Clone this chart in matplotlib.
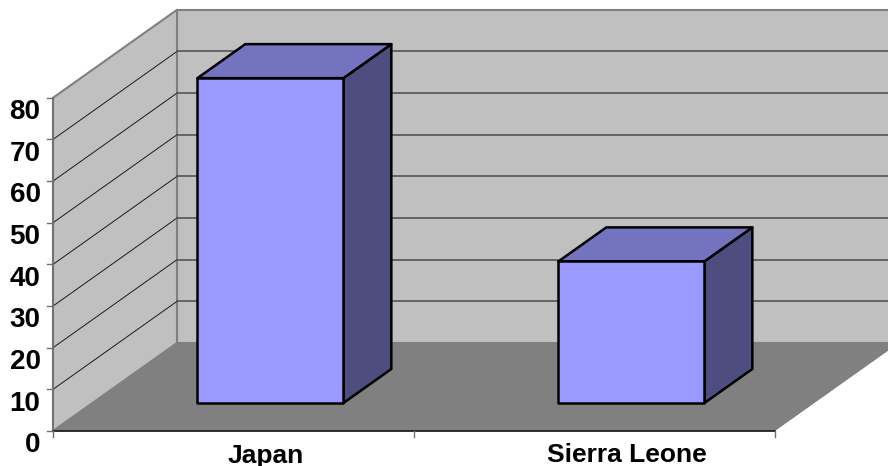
import matplotlib.pyplot as plt
from matplotlib.patches import Polygon

plt.rcParams['font.family'] = ['Liberation Sans', 'DejaVu Sans']

kategorier = ['Japan', 'Sierra Leone']
verdier = [78, 34]
y_ticks = [0, 10, 20, 30, 40, 50, 60, 70, 80]

# skråprojeksjon: dybde 1 flytter et punkt bakover og oppover
DYBDE_X = 124 / 361
DYBDE_Y = 88 / 4.165

def proj(x, y, z=0):
    return (x + z * DYBDE_X, y + z * DYBDE_Y)

def flate(ax, punkter, farge, kant='none', lw=0, zorder=1):
    ax.add_patch(Polygon(punkter, closed=True, facecolor=farge, edgecolor=kant,
                         linewidth=lw, joinstyle='round', zorder=zorder))

fig = plt.figure(figsize=(8.88, 4.66), dpi=100)
ax = fig.add_axes([0, 0, 1, 1])
ax.set_xlim(-53 / 361, 835 / 361)
ax.set_ylim(-35 / 4.165, 431 / 4.165)
ax.axis('off')

n = len(kategorier)
ymaks = y_ticks[-1]

# bakvegg, venstre vegg og gulv
flate(ax, [proj(0, 0, 1), proj(n, 0, 1), proj(n, ymaks, 1), proj(0, ymaks, 1)],
      '#c0c0c0', '#808080', 1.5, zorder=1)
flate(ax, [proj(0, 0), proj(0, 0, 1), proj(0, ymaks, 1), proj(0, ymaks)],
      '#c0c0c0', '#808080', 1.5, zorder=1)
flate(ax, [proj(0, 0), proj(n, 0), proj(n, 0, 1), proj(0, 0, 1)], '#808080', zorder=2)

# rutenett på veggene
for t in y_ticks[1:-1]:
    ax.plot(*zip(proj(0, t), proj(0, t, 1)), color='#1a1a1a', lw=0.7, zorder=3)
    ax.plot(*zip(proj(0, t, 1), proj(n, t, 1)), color='#555555', lw=1.2, zorder=3)

# akser og tick-merker
ax.plot([0, 0], [0, ymaks], color='#707070', lw=1.3, zorder=4)
ax.plot([0, n], [0, 0], color='#202020', lw=1.3, zorder=4)
for t in y_ticks:
    ax.plot([-6 / 361, 0], [t, t], color='#707070', lw=1, zorder=4)
    ax.text(-12.5 / 361, t - 3.4, str(t), ha='right', va='center',
            fontsize=20, fontweight='bold', color='black')
for i in range(n + 1):
    ax.plot([i, i], [0, -6 / 4.165], color='#707070', lw=1, zorder=4)

# søylene
bredde = 146 / 361
z_foran = 28 / 88
z_bak = 62 / 88
for i, verdi in enumerate(verdier):
    v = i + 0.493 - bredde / 2
    h = v + bredde
    flate(ax, [proj(h, 0, z_foran), proj(h, 0, z_bak), proj(h, verdi, z_bak), proj(h, verdi, z_foran)],
          '#4d4d80', 'black', 1.8, zorder=5)
    flate(ax, [proj(v, verdi, z_foran), proj(h, verdi, z_foran), proj(h, verdi, z_bak), proj(v, verdi, z_bak)],
          '#7373bf', 'black', 1.8, zorder=5)
    flate(ax, [proj(v, 0, z_foran), proj(h, 0, z_foran), proj(h, verdi, z_foran), proj(v, verdi, z_foran)],
          '#9999ff', 'black', 1.8, zorder=6)

# kategorinavn under aksen
for i, navn in enumerate(kategorier):
    ax.text(i + 0.5 + 32 / 361, -24.5 / 4.165, navn, ha='center', va='center',
            fontsize=19, fontweight='bold', color='black')

plt.savefig('out.png', dpi=100)
